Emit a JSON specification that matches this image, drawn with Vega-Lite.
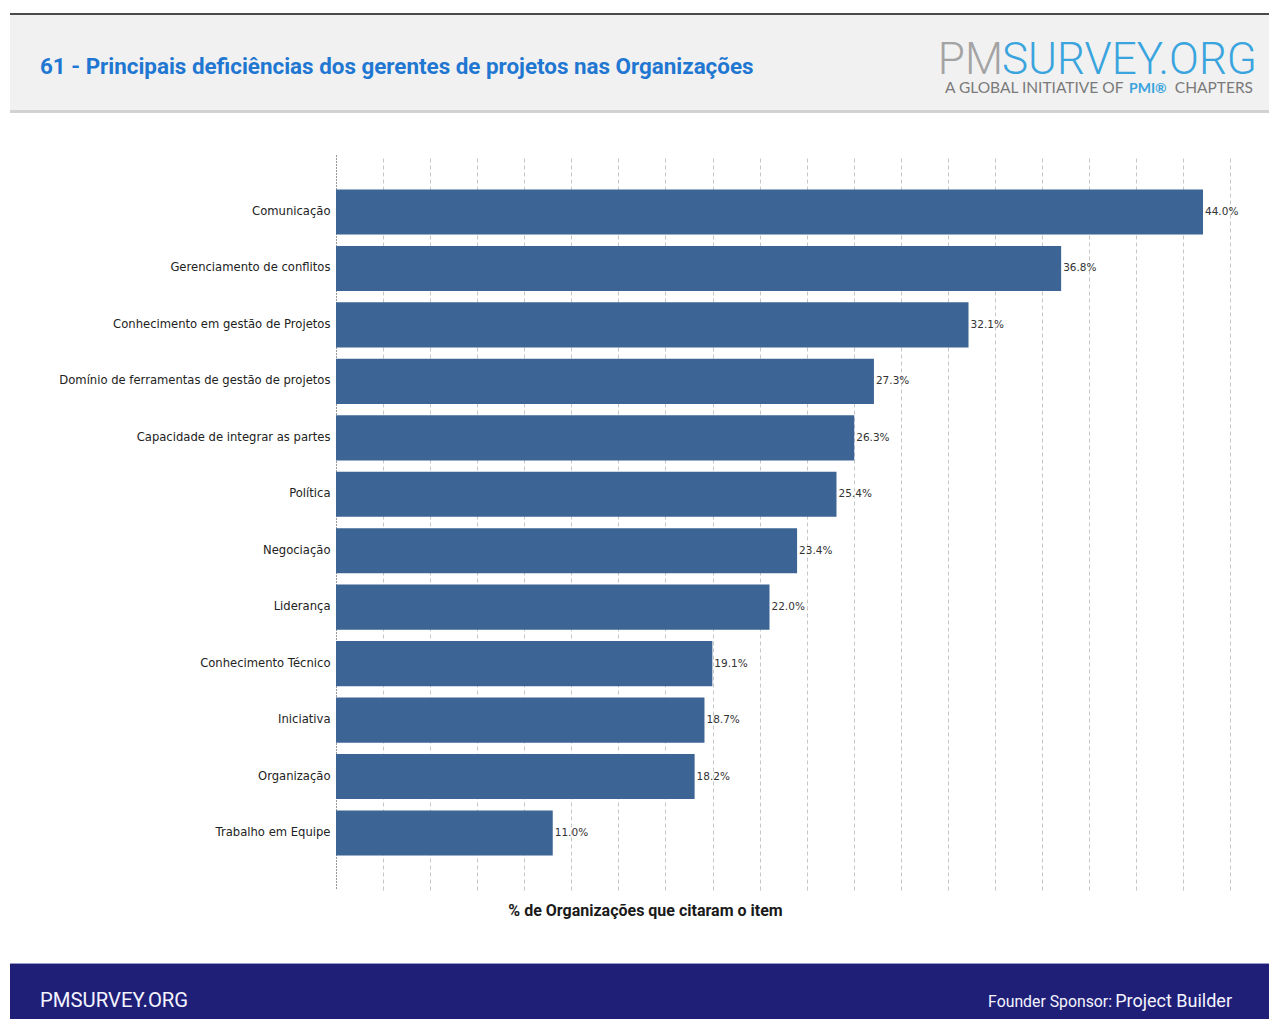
{
  "$schema": "https://vega.github.io/schema/vega-lite/v6.json",
  "padding": {"left": 8, "top": 13, "right": 0, "bottom": 0},
  "background": "white",
  "config": {"view": {"stroke": null}, "font": "Liberation Sans"},
  "bounds": "flush",
  "spacing": 42,
  "vconcat": [
    {
      "width": 1259,
      "height": 100,
      "view": {"fill": "#f1f1f1", "stroke": null},
      "layer": [
        {
          "data": {"values": [{"k": "top"}]},
          "mark": {"type": "rule", "color": "#4a4a4a", "strokeWidth": 2},
          "encoding": {"x": {"value": 0}, "x2": {"value": 1259}, "y": {"value": 1}}
        },
        {
          "data": {"values": [{"k": "bottom"}]},
          "mark": {"type": "rule", "color": "#d2d2d2", "strokeWidth": 3},
          "encoding": {"x": {"value": 0}, "x2": {"value": 1259}, "y": {"value": 98.5}}
        },
        {
          "data": {"values": [{"t": "61 - Principais deficiências dos gerentes de projetos nas Organizações"}]},
          "mark": {"type": "text", "align": "left", "baseline": "alphabetic", "font": "Roboto", "fontWeight": "bold", "fontSize": 22.4, "color": "#1f77d2"},
          "encoding": {"text": {"field": "t"}, "x": {"value": 30}, "y": {"value": 61}}
        },
        {
          "data": {"values": [{"t": "PM"}]},
          "mark": {"type": "text", "align": "right", "baseline": "alphabetic", "font": "Roboto", "fontWeight": 300, "fontSize": 44, "color": "#a3a3a3"},
          "encoding": {"text": {"field": "t"}, "x": {"value": 993}, "y": {"value": 61}}
        },
        {
          "data": {"values": [{"t": "SURVEY.ORG"}]},
          "mark": {"type": "text", "align": "left", "baseline": "alphabetic", "font": "Roboto", "fontWeight": 300, "fontSize": 44, "color": "#3aa4de"},
          "encoding": {"text": {"field": "t"}, "x": {"value": 992}, "y": {"value": 61}}
        },
        {
          "data": {"values": [{"t": "A GLOBAL INITIATIVE OF"}]},
          "mark": {"type": "text", "align": "left", "baseline": "alphabetic", "font": "Lato", "fontSize": 15.5, "color": "#7a7a7a"},
          "encoding": {"text": {"field": "t"}, "x": {"value": 935}, "y": {"value": 80}}
        },
        {
          "data": {"values": [{"t": "PMI®"}]},
          "mark": {"type": "text", "align": "left", "baseline": "alphabetic", "font": "Lato", "fontWeight": "bold", "fontSize": 14, "color": "#3aa4de"},
          "encoding": {"text": {"field": "t"}, "x": {"value": 1119}, "y": {"value": 80}}
        },
        {
          "data": {"values": [{"t": "CHAPTERS"}]},
          "mark": {"type": "text", "align": "right", "baseline": "alphabetic", "font": "Lato", "fontSize": 15.5, "color": "#7a7a7a"},
          "encoding": {"text": {"field": "t"}, "x": {"value": 1243}, "y": {"value": 80}}
        }
      ]
    },
    {
      "bounds": "flush",
      "spacing": 73,
      "vconcat": [
        {
          "width": 1259,
          "height": 735,
          "data": {
            "values": [
              {"item": "Comunicação", "pct": 0.440},
              {"item": "Gerenciamento de conflitos", "pct": 0.368},
              {"item": "Conhecimento em gestão de Projetos", "pct": 0.321},
              {"item": "Domínio de ferramentas de gestão de projetos", "pct": 0.273},
              {"item": "Capacidade de integrar as partes", "pct": 0.263},
              {"item": "Política", "pct": 0.254},
              {"item": "Negociação", "pct": 0.234},
              {"item": "Liderança", "pct": 0.220},
              {"item": "Conhecimento Técnico", "pct": 0.191},
              {"item": "Iniciativa", "pct": 0.187},
              {"item": "Organização", "pct": 0.182},
              {"item": "Trabalho em Equipe", "pct": 0.110}
            ]
          },
          "encoding": {
            "y": {
              "field": "item",
              "type": "nominal",
              "sort": null,
              "scale": {"paddingInner": 0.2, "paddingOuter": 0.61},
              "axis": {
                "title": null,
                "ticks": false,
                "offset": -326,
                "labelPadding": 6,
                "labelFont": "DejaVu Sans",
                "labelFontSize": 11.6,
                "labelColor": "#222222",
                "domainColor": "#333333",
                "domainDash": [1, 2],
                "labelLimit": 320,
                "grid": false
              }
            },
            "x": {
              "field": "pct",
              "type": "quantitative",
              "scale": {"domain": [-0.16544, 0.47349], "nice": false, "zero": false},
              "axis": {
                "title": "% de Organizações que citaram o item",
                "titleFont": "Roboto",
                "titleFontSize": 16,
                "titleFontWeight": "bold",
                "titleColor": "#1a1a1a",
                "titlePadding": 12,
                "titleX": 635,
                "labels": false,
                "ticks": false,
                "domain": false,
                "grid": true,
                "gridColor": "#c6c6c6",
                "gridDash": [4, 3],
                "values": [0.023887, 0.047774, 0.071661, 0.095547, 0.119434, 0.143321, 0.167208, 0.191095, 0.214982, 0.238868, 0.262755, 0.286642, 0.310529, 0.334416, 0.358303, 0.382189, 0.406076, 0.429963, 0.45385]
              }
            }
          },
          "layer": [
            {"mark": {"type": "bar", "color": "#3c6595"}, "encoding": {"x2": {"datum": 0}}},
            {
              "mark": {"type": "text", "align": "left", "dx": 2, "font": "DejaVu Sans", "fontSize": 10.5, "color": "#333333"},
              "encoding": {"text": {"field": "pct", "type": "quantitative", "format": ".1%"}}
            }
          ]
        },
        {
          "width": 1259,
          "height": 56,
          "view": {"fill": "#1f1f78", "stroke": null},
          "layer": [
            {
              "data": {"values": [{"k": "line"}]},
              "mark": {"type": "rule", "color": "#9a9acb", "strokeWidth": 1},
              "encoding": {"x": {"value": 0}, "x2": {"value": 1259}, "y": {"value": 0.5}}
            },
            {
              "data": {"values": [{"t": "PMSURVEY.ORG"}]},
              "mark": {"type": "text", "align": "left", "baseline": "alphabetic", "font": "Roboto", "fontSize": 20.3, "color": "#f4f4ff"},
              "encoding": {"text": {"field": "t"}, "x": {"value": 30}, "y": {"value": 44}}
            },
            {
              "data": {"values": [{"t": "Founder Sponsor:"}]},
              "mark": {"type": "text", "align": "right", "baseline": "alphabetic", "font": "Roboto", "fontSize": 15.8, "color": "#f4f4ff"},
              "encoding": {"text": {"field": "t"}, "x": {"value": 1102}, "y": {"value": 44}}
            },
            {
              "data": {"values": [{"t": "Project Builder"}]},
              "mark": {"type": "text", "align": "right", "baseline": "alphabetic", "font": "Roboto", "fontSize": 18, "color": "#f4f4ff"},
              "encoding": {"text": {"field": "t"}, "x": {"value": 1222}, "y": {"value": 44}}
            }
          ]
        }
      ]
    }
  ]
}
